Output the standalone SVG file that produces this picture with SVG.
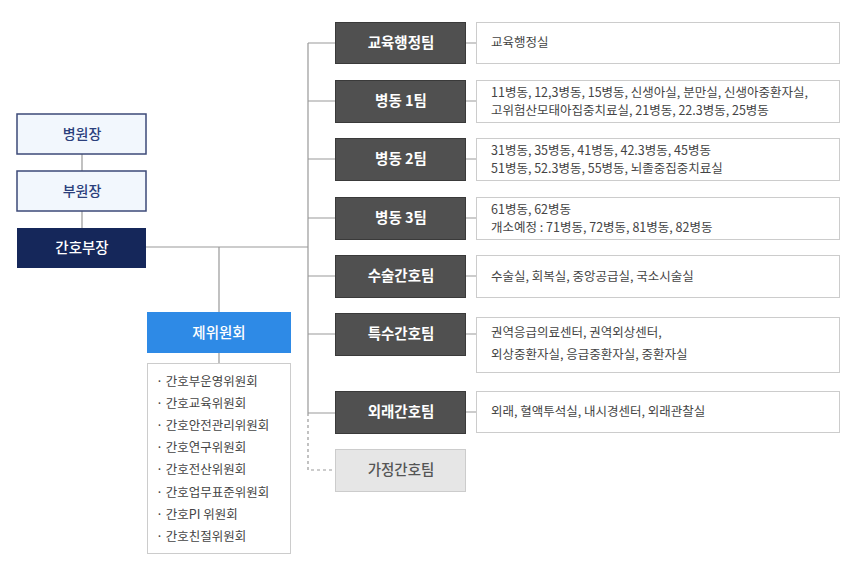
<svg xmlns="http://www.w3.org/2000/svg" width="856" height="569" viewBox="0 0 856 569">
<style>
text{font-family:"Noto Sans CJK KR","Noto Sans",sans-serif}
.top{fill:#f2f7fd;stroke:#3d4a78;stroke-width:1.5}
.tt{font-size:14px;fill:#2b3f7c;text-anchor:middle;font-weight:500}
.team{fill:#505050;stroke:#3a3a3a}
.tl{font-size:14.5px;fill:#fff;text-anchor:middle;font-weight:700}
.det{fill:#fff;stroke:#ccc}
.dt{font-size:12.5px;fill:#444}
.ln{stroke:#999;stroke-width:1.2;fill:none}
.li{font-size:12.5px;fill:#444}
</style>
<g id="connectors">
<path class="ln" d="M82 154V171M82 211V228M146 247H308M219 247V312M219 353V363M308 43V413M308 43H335M308 101H335M308 159H335M308 218H335M308 276H335M308 334H335M308 413H335"/>
<path class="ln" d="M308 413V470H335" stroke-dasharray="3,3"/>
<path class="ln" d="M466 43H476M466 101H476M466 159H476M466 218H476M466 276H476M466 334H476M466 412H476"/>
</g>
<g id="n1"><rect class="top" x="17" y="114" width="129" height="40"/><text class="tt" x="82" y="139">병원장</text></g>
<g id="n2"><rect class="top" x="17" y="171" width="129" height="40"/><text class="tt" x="82" y="196">부원장</text></g>
<g id="n3"><rect x="17" y="228" width="129" height="40" fill="#15275a"/><text class="tl" x="82" y="253" style="font-weight:500">간호부장</text></g>
<g id="n4"><rect x="147" y="312" width="144" height="41" fill="#2e8ae6"/><text class="tl" x="219" y="338" style="font-weight:500">제위원회</text></g>
<g id="n5"><rect x="147.5" y="363.5" width="143" height="190" fill="#fff" stroke="#ccc"/>
<text class="li" x="156" y="386">· 간호부운영위원회</text>
<text class="li" x="156" y="408">· 간호교육위원회</text>
<text class="li" x="156" y="430">· 간호안전관리위원회</text>
<text class="li" x="156" y="452">· 간호연구위원회</text>
<text class="li" x="156" y="474">· 간호전산위원회</text>
<text class="li" x="156" y="497">· 간호업무표준위원회</text>
<text class="li" x="156" y="519">· 간호PI 위원회</text>
<text class="li" x="156" y="541">· 간호친절위원회</text>
</g>
<g id="t1"><rect class="team" x="335.5" y="22.5" width="130" height="41"/><text class="tl" x="401" y="48">교육행정팀</text></g>
<g id="d1"><rect class="det" x="476.5" y="22.5" width="363" height="41"/><text class="dt" x="491" y="47">교육행정실</text></g>
<g id="t2"><rect class="team" x="335.5" y="80.5" width="130" height="42"/><text class="tl" x="401" y="106">병동 1팀</text></g>
<g id="d2"><rect class="det" x="476.5" y="80.5" width="363" height="42"/><text class="dt" x="491" y="97">11병동, 12,3병동, 15병동, 신생아실, 분만실, 신생아중환자실,</text><text class="dt" x="491" y="115">고위험산모태아집중치료실, 21병동, 22.3병동, 25병동</text></g>
<g id="t3"><rect class="team" x="335.5" y="138.5" width="130" height="42"/><text class="tl" x="401" y="164">병동 2팀</text></g>
<g id="d3"><rect class="det" x="476.5" y="138.5" width="363" height="42"/><text class="dt" x="491" y="155">31병동, 35병동, 41병동, 42.3병동, 45병동</text><text class="dt" x="491" y="173">51병동, 52.3병동, 55병동, 뇌졸중집중치료실</text></g>
<g id="t4"><rect class="team" x="335.5" y="197.5" width="130" height="42"/><text class="tl" x="401" y="223">병동 3팀</text></g>
<g id="d4"><rect class="det" x="476.5" y="197.5" width="363" height="42"/><text class="dt" x="491" y="214">61병동, 62병동</text><text class="dt" x="491" y="232">개소예정 : 71병동, 72병동, 81병동, 82병동</text></g>
<g id="t5"><rect class="team" x="335.5" y="255.5" width="130" height="42"/><text class="tl" x="401" y="281">수술간호팀</text></g>
<g id="d5"><rect class="det" x="476.5" y="255.5" width="363" height="42"/><text class="dt" x="491" y="281">수술실, 회복실, 중앙공급실, 국소시술실</text></g>
<g id="t6"><rect class="team" x="335.5" y="313.5" width="130" height="42"/><text class="tl" x="401" y="339">특수간호팀</text></g>
<g id="d6"><rect class="det" x="476.5" y="317.5" width="363" height="55"/><text class="dt" x="491" y="337">권역응급의료센터, 권역외상센터,</text><text class="dt" x="491" y="359">외상중환자실, 응급중환자실, 중환자실</text></g>
<g id="t7"><rect class="team" x="335.5" y="391.5" width="130" height="42"/><text class="tl" x="401" y="417">외래간호팀</text></g>
<g id="d7"><rect class="det" x="476.5" y="391.5" width="363" height="41"/><text class="dt" x="491" y="416">외래, 혈액투석실, 내시경센터, 외래관찰실</text></g>
<g id="t8"><rect x="335.5" y="449.5" width="130" height="42" fill="#e6e6e6" stroke="#ccc"/><text class="tl" x="401" y="475" style="fill:#555;font-weight:500">가정간호팀</text></g>
</svg>
